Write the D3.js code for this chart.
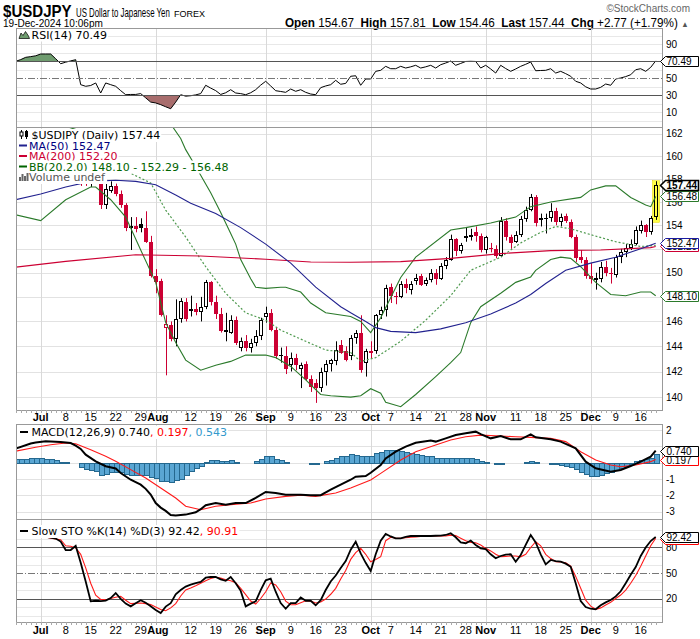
<!DOCTYPE html>
<html lang="en">
<head>
<meta charset="UTF-8">
<title>$USDJPY US Dollar to Japanese Yen FOREX</title>
<script src="https://d3js.org/d3.v7.min.js"></script>
<style>
  body { margin: 0; background: #fff; }
  svg { display: block; }
  text { font-family: "Liberation Sans", Arial, sans-serif; }
  .leg { font-family: "DejaVu Sans", Verdana, sans-serif; font-size: 11px; }
</style>
</head>
<body>
<div id="chart"></div>
<script>
// ---------- data ----------
// trading days run Mon-Fri from 2024-06-24 to 2024-12-19
const monthTicks = [["07-01", "Jul"], ["08-01", "Aug"], ["09-02", "Sep"], ["10-01", "Oct"], ["11-01", "Nov"], ["12-02", "Dec"]];
const dayTicks = [["07-08", "8"], ["07-15", "15"], ["07-22", "22"], ["07-29", "29"], ["08-12", "12"], ["08-19", "19"],
  ["08-26", "26"], ["09-09", "9"], ["09-16", "16"], ["09-23", "23"], ["10-07", "7"], ["10-14", "14"], ["10-21", "21"],
  ["10-28", "28"], ["11-11", "11"], ["11-18", "18"], ["11-25", "25"], ["12-09", "9"], ["12-16", "16"]];

// date, open, high, low, close
const candles = [
  ["06-24", 159.8, 159.9, 159.2, 159.6], ["06-25", 159.6, 159.8, 159.3, 159.7], ["06-26", 159.7, 160.9, 159.6, 160.8],
  ["06-27", 160.8, 160.9, 160.3, 160.8], ["06-28", 160.8, 161.3, 160.6, 160.9],
  ["07-01", 160.9, 161.7, 160.8, 161.5], ["07-02", 161.5, 161.7, 161.2, 161.5], ["07-03", 161.5, 161.95, 161.3, 161.7],
  ["07-04", 161.7, 161.8, 161.1, 161.2], ["07-05", 161.2, 161.3, 160.4, 160.8],
  ["07-08", 160.8, 161.0, 160.3, 160.8], ["07-09", 160.8, 161.4, 160.6, 161.3], ["07-10", 161.3, 161.8, 161.2, 161.7],
  ["07-11", 161.7, 161.8, 157.4, 158.8], ["07-12", 158.8, 159.4, 157.4, 157.9],
  ["07-15", 157.9, 158.6, 157.3, 158.0], ["07-16", 158.1, 158.8, 157.6, 158.4], ["07-17", 158.4, 158.8, 155.4, 155.7],
  ["07-18", 155.7, 157.6, 155.4, 157.1], ["07-19", 157.0, 157.8, 156.8, 157.4],
  ["07-22", 157.4, 157.6, 156.5, 156.7], ["07-23", 156.7, 157.0, 155.5, 155.7], ["07-24", 155.7, 155.9, 153.5, 153.8],
  ["07-25", 153.8, 154.7, 151.9, 153.9], ["07-26", 153.9, 154.7, 153.4, 153.7],
  ["07-29", 154.1, 154.6, 153.4, 153.8], ["07-30", 153.8, 155.2, 152.5, 152.6], ["07-31", 152.6, 153.1, 149.6, 149.7],
  ["08-01", 149.7, 150.3, 148.3, 149.2], ["08-02", 149.3, 149.5, 146.4, 146.5],
  ["08-05", 145.5, 146.5, 141.7, 145.8], ["08-06", 145.7, 146.0, 144.4, 144.6], ["08-07", 144.6, 147.8, 144.0, 146.2],
  ["08-08", 146.2, 147.9, 145.9, 147.7], ["08-09", 147.6, 147.9, 146.0, 146.2],
  ["08-12", 146.9, 148.1, 146.4, 147.0], ["08-13", 147.0, 147.5, 146.5, 146.8], ["08-14", 146.8, 148.0, 146.0, 147.2],
  ["08-15", 147.2, 149.4, 147.0, 149.2], ["08-16", 149.2, 149.3, 147.3, 147.6],
  ["08-19", 147.6, 148.1, 146.2, 146.6], ["08-20", 146.6, 147.1, 145.1, 145.2], ["08-21", 145.2, 146.7, 144.4, 145.3],
  ["08-22", 145.1, 146.5, 145.0, 146.1], ["08-23", 146.1, 146.4, 144.1, 144.3],
  ["08-26", 143.9, 144.7, 143.6, 144.4], ["08-27", 144.4, 144.9, 143.6, 143.9], ["08-28", 143.9, 144.6, 143.5, 144.3],
  ["08-29", 144.3, 145.3, 144.0, 144.8], ["08-30", 144.8, 146.3, 144.5, 146.1],
  ["09-02", 146.4, 147.2, 145.9, 146.7], ["09-03", 146.7, 147.0, 145.2, 145.3], ["09-04", 145.3, 145.5, 143.0, 143.2],
  ["09-05", 143.3, 143.9, 142.7, 143.25], ["09-06", 143.2, 144.0, 141.8, 142.2],
  ["09-09", 142.5, 143.5, 142.0, 143.1], ["09-10", 143.1, 143.4, 142.1, 142.5], ["09-11", 142.2, 142.7, 140.7, 142.5],
  ["09-12", 142.6, 142.8, 141.3, 141.4], ["09-13", 141.4, 141.7, 140.4, 140.8],
  ["09-16", 141.1, 141.4, 139.55, 140.7], ["09-17", 140.7, 142.3, 140.4, 141.95], ["09-18", 141.95, 142.9, 140.9, 142.6],
  ["09-19", 142.6, 143.0, 142.0, 142.9], ["09-20", 142.8, 144.4, 142.5, 143.7],
  ["09-23", 144.1, 144.5, 143.4, 143.5], ["09-24", 143.6, 144.0, 142.8, 142.9], ["09-25", 143.2, 144.9, 142.9, 144.7],
  ["09-26", 144.7, 145.3, 144.2, 145.1], ["09-27", 145.1, 146.5, 141.9, 142.1],
  ["09-30", 142.7, 143.8, 141.6, 143.6], ["10-01", 143.6, 144.4, 143.0, 143.5], ["10-02", 143.6, 146.6, 143.4, 146.5],
  ["10-03", 146.5, 147.2, 146.2, 146.9], ["10-04", 146.9, 149.0, 146.4, 148.7],
  ["10-07", 148.8, 149.1, 147.5, 148.1], ["10-08", 148.1, 148.4, 147.4, 148.0], ["10-09", 148.0, 149.3, 147.9, 149.1],
  ["10-10", 149.1, 149.5, 148.3, 148.7], ["10-11", 148.6, 149.3, 148.2, 149.1],
  ["10-14", 149.3, 149.9, 149.0, 149.6], ["10-15", 149.7, 149.9, 148.9, 149.0], ["10-16", 149.1, 149.6, 148.9, 149.4],
  ["10-17", 149.4, 150.3, 149.2, 150.0], ["10-18", 150.0, 150.3, 149.0, 149.5],
  ["10-21", 149.5, 150.8, 149.4, 150.6], ["10-22", 150.6, 151.3, 150.3, 151.1], ["10-23", 151.1, 153.2, 151.0, 152.8],
  ["10-24", 152.8, 152.9, 151.4, 151.8], ["10-25", 151.8, 152.5, 151.6, 152.3],
  ["10-28", 153.0, 153.8, 152.6, 153.1], ["10-29", 153.1, 153.7, 152.7, 153.2], ["10-30", 153.4, 153.9, 152.6, 153.1],
  ["10-31", 153.1, 153.3, 151.7, 151.9], ["11-01", 151.9, 153.1, 151.6, 153.0],
  ["11-04", 152.1, 152.5, 151.7, 152.0], ["11-05", 152.0, 152.3, 151.2, 151.4], ["11-06", 151.4, 154.7, 151.3, 154.4],
  ["11-07", 154.4, 154.6, 152.7, 153.0], ["11-08", 153.0, 153.2, 152.0, 152.5],
  ["11-11", 152.6, 153.5, 152.5, 153.2], ["11-12", 153.2, 154.8, 153.0, 154.5], ["11-13", 154.5, 155.6, 154.3, 155.3],
  ["11-14", 155.3, 156.7, 155.2, 156.4], ["11-15", 156.4, 156.6, 153.9, 154.2],
  ["11-18", 154.5, 155.0, 153.9, 154.6], ["11-19", 154.6, 155.0, 153.3, 154.6], ["11-20", 154.6, 155.9, 154.3, 155.2],
  ["11-21", 155.2, 155.5, 154.0, 154.3], ["11-22", 154.3, 155.0, 153.9, 154.7],
  ["11-25", 154.8, 155.0, 154.2, 154.4], ["11-26", 154.3, 154.5, 152.9, 153.0], ["11-27", 153.0, 153.2, 150.9, 151.2],
  ["11-28", 151.3, 151.9, 150.8, 151.1], ["11-29", 151.1, 151.3, 149.5, 149.7],
  ["12-02", 149.7, 150.8, 149.1, 149.5], ["12-03", 149.5, 150.0, 148.6, 149.6], ["12-04", 149.5, 150.9, 149.2, 150.5],
  ["12-05", 150.5, 151.0, 149.7, 150.0], ["12-06", 150.0, 150.4, 149.1, 149.9],
  ["12-09", 149.8, 151.5, 149.6, 151.3], ["12-10", 151.3, 152.0, 150.8, 151.7], ["12-11", 151.7, 152.4, 151.3, 152.1],
  ["12-12", 152.1, 152.8, 151.9, 152.4], ["12-13", 152.4, 153.9, 152.3, 153.6],
  ["12-16", 153.5, 154.4, 153.3, 154.0], ["12-17", 154.0, 154.1, 153.0, 153.4], ["12-18", 153.4, 154.8, 153.2, 154.6],
  ["12-19", 154.67, 157.81, 154.46, 157.44]
];

const ma50 = [["06-24", 156.2], ["07-01", 156.7], ["07-08", 157.3], ["07-15", 157.8], ["07-22", 157.9], ["07-26", 157.8],
  ["08-01", 157.5], ["08-07", 156.6], ["08-12", 155.9], ["08-19", 155.0], ["08-26", 153.8], ["09-02", 152.4],
  ["09-09", 150.8], ["09-16", 148.8], ["09-23", 147.2], ["09-25", 146.7], ["09-30", 146.0], ["10-02", 145.5],
  ["10-07", 145.2], ["10-14", 145.1], ["10-21", 145.4], ["10-28", 145.9], ["11-04", 146.6], ["11-11", 147.5],
  ["11-14", 148.2], ["11-19", 149.1], ["11-25", 150.2], ["12-02", 150.8], ["12-09", 151.3], ["12-16", 152.0], ["12-19", 152.47]];

const ma200 = [["06-24", 150.46], ["07-08", 150.95], ["07-26", 151.5], ["08-14", 151.4], ["09-02", 151.13], ["09-13", 150.9],
  ["09-25", 150.88], ["10-09", 150.93], ["10-23", 151.2], ["11-06", 151.6], ["11-20", 151.85], ["12-04", 151.9],
  ["12-18", 152.1], ["12-19", 152.2]];

const bbUpper = [["06-24", 159.8], ["07-01", 161.3], ["07-08", 162.3], ["07-15", 163.0], ["07-22", 163.4], ["07-29", 163.8],
  ["08-02", 163.6], ["08-06", 162.9], ["08-08", 161.6], ["08-09", 160.6], ["08-13", 159.1], ["08-16", 156.8],
  ["08-20", 155.1], ["08-22", 153.3], ["08-23", 152.4], ["08-26", 151.1], ["08-28", 149.5], ["08-29", 148.8],
  ["09-02", 148.7], ["09-05", 148.8], ["09-06", 148.8], ["09-11", 148.4], ["09-13", 147.5], ["09-18", 146.7],
  ["09-25", 146.4], ["09-27", 146.0], ["10-01", 145.1], ["10-03", 146.3], ["10-09", 149.6], ["10-14", 151.3],
  ["10-23", 153.6], ["10-28", 153.8], ["11-04", 154.2], ["11-11", 154.7], ["11-14", 155.6], ["11-20", 156.0],
  ["11-28", 156.4], ["12-02", 157.05], ["12-05", 157.4], ["12-09", 157.4], ["12-12", 156.4], ["12-17", 155.75],
  ["12-18", 155.6], ["12-19", 156.48]];

const bbMiddle = [["06-24", 158.2], ["06-27", 158.5], ["07-03", 159.06], ["07-09", 159.5], ["07-15", 159.86], ["07-17", 159.95],
  ["07-22", 159.7], ["07-25", 158.5], ["07-31", 157.66], ["08-05", 155.3], ["08-09", 153.0], ["08-15", 150.5],
  ["08-21", 148.3], ["08-27", 146.7], ["09-02", 146.1], ["09-05", 145.3], ["09-12", 144.4], ["09-18", 143.7],
  ["09-25", 143.5], ["09-27", 142.8], ["10-02", 143.1], ["10-09", 144.4], ["10-16", 146.1], ["10-23", 148.1],
  ["10-29", 150.2], ["11-06", 151.3], ["11-12", 152.5], ["11-18", 153.4], ["11-21", 153.9], ["11-26", 153.7],
  ["12-02", 153.2], ["12-09", 152.6], ["12-16", 152.2], ["12-19", 152.29]];

const bbLower = [["06-24", 154.9], ["07-01", 154.4], ["07-08", 156.2], ["07-15", 157.3], ["07-16", 157.3], ["07-19", 156.2],
  ["07-24", 154.7], ["07-29", 151.9], ["08-01", 149.2], ["08-05", 145.9], ["08-07", 144.3], ["08-09", 142.9],
  ["08-14", 142.1], ["08-19", 142.5], ["08-22", 142.8], ["08-27", 143.3], ["09-02", 143.3], ["09-04", 143.1],
  ["09-09", 142.4], ["09-12", 141.35], ["09-17", 140.2], ["09-19", 140.1], ["09-25", 140.0], ["09-27", 140.1],
  ["10-01", 140.65], ["10-03", 140.3], ["10-04", 139.6], ["10-09", 139.25], ["10-14", 140.2], ["10-18", 141.6],
  ["10-23", 142.7], ["10-25", 143.5], ["10-29", 145.9], ["10-31", 147.2], ["11-06", 148.3], ["11-11", 149.2],
  ["11-14", 149.65], ["11-15", 150.2], ["11-20", 151.1], ["11-22", 151.3], ["11-26", 151.2], ["11-28", 150.5],
  ["12-03", 149.2], ["12-06", 148.2], ["12-11", 148.1], ["12-16", 148.4], ["12-18", 148.4], ["12-19", 148.1]];

// one value per trading day
const rsi = [
  70, 72, 74.7, 75.5, 76.5, 78.6, 78.6, 78.6, 73, 67.2, 69, 70.5, 71.9, 42.5, 40.6,
  41.5, 44.5, 32.7, 44.5, 42.5, 40.6, 35.5, 30.7, 31, 31, 32, 27, 22, 21, 19,
  16.5, 14.2, 22, 30.7, 29, 29.5, 30.5, 32, 41.8, 38.5, 35.5, 31, 33, 36.6, 32.7,
  32, 30.7, 33, 36.6, 42, 46.5, 41, 35.4, 34.5, 33.5, 37.4, 34.7, 36.6, 33.5, 31.5,
  30.7, 39, 41, 42.5, 47.6, 43, 44, 52.4, 53, 41.8, 49.2, 49.2, 58.2, 59.4, 64.1,
  61.3, 61.3, 64.1, 62.1, 63.5, 65.3, 62.1, 63.5, 65.3, 62.1, 66, 68, 70.3, 65.3, 67.5,
  69.8, 70, 69.8, 62.1, 65.3, 61, 56.2, 65.3, 61.5, 58.2, 61, 64.1, 66.5, 69.2, 58.9,
  59.2, 59.4, 61.3, 56.2, 58.2, 55.5, 52.4, 46.5, 44.5, 40, 37.4, 37.4, 39.4, 43.3, 41.8,
  49.2, 50.4, 52, 54.2, 60.1, 61.3, 58.2, 62.9, 70.49];

const macdLine = [["06-24", 0.87], ["06-27", 1.18], ["06-28", 1.24], ["07-02", 1.32], ["07-05", 1.28], ["07-09", 1.21],
  ["07-10", 1.05], ["07-11", 0.85], ["07-12", 0.5], ["07-16", 0.09], ["07-18", -0.21], ["07-22", -0.35], ["07-23", -0.63],
  ["07-25", -1.04], ["07-29", -1.34], ["07-30", -1.6], ["07-31", -1.95], ["08-01", -2.47], ["08-02", -2.75], ["08-05", -2.95],
  ["08-06", -3.2], ["08-07", -3.24], ["08-09", -3.18], ["08-13", -3.04], ["08-14", -2.85], ["08-15", -2.6], ["08-19", -2.47],
  ["08-21", -2.57], ["08-23", -2.47], ["08-27", -2.47], ["08-29", -2.16], ["09-02", -1.79], ["09-04", -1.85], ["09-06", -1.96],
  ["09-11", -1.96], ["09-13", -1.99], ["09-17", -1.99], ["09-19", -1.65], ["09-23", -1.34], ["09-25", -1.04], ["09-26", -0.85],
  ["09-30", -0.81], ["10-01", -0.61], ["10-03", -0.14], ["10-04", 0.27], ["10-08", 0.68], ["10-10", 0.99], ["10-14", 1.23],
  ["10-17", 1.36], ["10-18", 1.3], ["10-22", 1.5], ["10-24", 1.7], ["10-28", 1.81], ["10-30", 1.91], ["10-31", 1.76],
  ["11-04", 1.5], ["11-06", 1.64], ["11-08", 1.44], ["11-12", 1.44], ["11-14", 1.74], ["11-15", 1.56], ["11-20", 1.44],
  ["11-22", 1.3], ["11-27", 0.89], ["11-29", 0.07], ["12-03", -0.34], ["12-06", -0.55], ["12-10", -0.44], ["12-12", -0.2],
  ["12-16", 0.07], ["12-18", 0.38], ["12-19", 0.74]];

const macdSignal = [["06-24", 0.71], ["06-28", 0.95], ["07-03", 1.11], ["07-08", 1.21], ["07-10", 1.17], ["07-15", 0.8],
  ["07-18", 0.4], ["07-22", 0.09], ["07-25", -0.42], ["07-30", -0.93], ["08-02", -1.55], ["08-07", -2.16], ["08-09", -2.67],
  ["08-14", -2.88], ["08-19", -2.67], ["08-22", -2.57], ["08-28", -2.47], ["09-02", -2.22], ["09-06", -2.06], ["09-11", -1.99],
  ["09-16", -2.06], ["09-20", -1.85], ["09-25", -1.55], ["10-01", -1.06], ["10-03", -0.65], ["10-09", 0.17], ["10-14", 0.68],
  ["10-18", 1.09], ["10-23", 1.4], ["10-28", 1.6], ["10-31", 1.7], ["11-06", 1.64], ["11-11", 1.6], ["11-14", 1.56],
  ["11-20", 1.5], ["11-25", 1.3], ["11-28", 0.68], ["12-03", 0.17], ["12-06", -0.14], ["12-10", -0.24], ["12-13", -0.14],
  ["12-18", 0.07], ["12-19", 0.197]];

const macdHist = [
  0.23, 0.23, 0.25, 0.29, 0.29, 0.29, 0.23, 0.21, 0.15, 0.03, 0.03, 0, -0.04, -0.28, -0.36,
  -0.42, -0.52, -0.73, -0.69, -0.58, -0.58, -0.58, -0.69, -0.77, -0.77, -0.73, -0.77, -0.89, -0.93, -1.09,
  -1.14, -1.18, -1.03, -0.97, -0.73, -0.52, -0.32, -0.18, 0.07, 0.15, 0.19, 0.09, 0.13, 0.15, 0.03,
  0, 0, 0, 0.13, 0.21, 0.4, 0.4, 0.25, 0.15, 0.07, 0, 0, 0, -0.04, -0.08,
  -0.08, 0, 0.09, 0.19, 0.29, 0.4, 0.4, 0.52, 0.48, 0.42, 0.42, 0.42, 0.58, 0.69, 0.79,
  0.79, 0.79, 0.75, 0.69, 0.62, 0.54, 0.48, 0.42, 0.42, 0.27, 0.27, 0.27, 0.27, 0.27, 0.27,
  0.27, 0.27, 0.21, 0.13, 0.07, 0, -0.1, -0.08, -0.04, -0.04, -0.04, 0, 0.03, 0.11, 0.03,
  -0.04, -0.04, -0.08, -0.1, -0.14, -0.18, -0.28, -0.4, -0.54, -0.69, -0.81, -0.81, -0.75, -0.65, -0.54,
  -0.44, -0.3, -0.18, -0.08, 0.11, 0.17, 0.21, 0.27, 0.543];

const stoK = [
  95, 95, 94.5, 94, 93.5, 93, 92.5, 91.5, 90.5, 87, 77, 77, 82, 62, 40,
  16.7, 17.4, 17, 17.5, 20.6, 26.5, 19.5, 14, 10.8, 14.5, 17.9, 15, 11, 6.5, 2.9,
  10.5, 14.5, 25, 30, 34, 36.3, 38, 39.6, 44.5, 45.3, 45.3, 42.5, 40.9, 45.3, 38,
  29, 10.8, 14, 16.7, 30, 41.4, 43.3, 28, 14.7, 8, 14.7, 14.7, 21.4, 17.4, 17.4,
  12, 18, 30, 40, 47, 56, 64, 77.4, 86.8, 73, 62, 52.4, 72, 88, 95.9,
  93, 90.8, 90.8, 92.5, 93.5, 93.5, 93.5, 93.5, 93.5, 93.8, 94, 94.7, 96.7, 92, 86,
  85, 88, 83, 79, 78, 72, 67.3, 70, 71.5, 72, 63.3, 71.2, 83, 94.7, 86,
  72, 60.2, 65.3, 64, 63.3, 61, 57.4, 38, 17, 10, 8, 7.3, 12, 15.5, 18.2,
  22.5, 28.5, 37.9, 48, 57, 70, 80, 87.6, 92.42];

const stoD = [
  95, 94.8, 94.5, 94.5, 94, 93.2, 92.5, 91, 90, 89.2, 82, 81.4, 79.4, 72, 56,
  38, 24, 19, 18.6, 20, 21.5, 22.6, 18, 14, 14.5, 14.7, 14, 13, 10, 7,
  5.6, 9, 14, 23, 30, 32.4, 35, 38, 41, 43.5, 45, 44, 42.1, 41, 38.5,
  32, 24.5, 17, 13.5, 20, 28, 38.2, 36, 28, 17, 12.7, 12.7, 15, 17.4, 17,
  14.7, 16, 19.4, 25, 32, 43, 53, 66, 74, 79, 72, 63.3, 66, 69.2, 88,
  92, 90.8, 90.8, 91.5, 92, 92.5, 93, 93.5, 93.5, 93.5, 93.5, 93.5, 94.5, 94, 91,
  88, 86, 85.6, 83, 79, 76, 72, 69.2, 69.5, 70, 70, 69, 72, 80, 86.8,
  82, 72, 67, 63.3, 63, 62, 58, 46, 32, 18, 11, 7.3, 9, 12.5, 15.5,
  20, 24.1, 30, 38, 47, 58, 70, 82, 90.91];

// axis labels (the ones hidden under value tags in the original are left out)
const priceTicks = [140, 142, 144, 146, 150, 154, 156, 158, 160, 162];
const priceGrid = d3.range(140, 163, 2);
const rsiTicks = [90, 50, 30, 10];
const macdTicks = [2, -1, -2, -3];
const macdGrid = [2, 1, 0, -1, -2, -3];
const stoTicks = [80, 50, 20];

// ---------- layout ----------
const W = 700, H = 639, L = 16, R = 663;
const RED = "#cc0033", NAVY = "#22228f", GREEN = "#2b7a2b";
const panels = {
  rsi: { top: 28, bot: 127 },
  main: { top: 127, bot: 410 },
  macd: { top: 424, bot: 519 },
  sto: { top: 519, bot: 622 }
};

const days = [];
for (let t = Date.UTC(2024, 5, 24); t <= Date.UTC(2024, 11, 19); t += 864e5) {
  const d = new Date(t), wd = d.getUTCDay();
  if (wd > 0 && wd < 6) days.push(d.toISOString().slice(5, 10));
}
const dayIdx = new Map(days.map((d, i) => [d, i]));

const x = d3.scaleLinear().domain([0, days.length - 1]).range([15.7, 655.7]);
const px = i => Math.round(x(i));
const xd = d => x(dayIdx.get(d));

const yRsi = d3.scaleLinear().domain([-7.3, 109.2]).range([panels.rsi.bot, panels.rsi.top]);
const yMain = d3.scaleLog().domain([139.0, 162.63]).range([panels.main.bot, panels.main.top]);
const yMacd = d3.scaleLinear().domain([-3.45, 2.38]).range([panels.macd.bot, panels.macd.top]);
const ySto = d3.scaleLinear().domain([-7.6, 113.5]).range([panels.sto.bot, panels.sto.top]);

const svg = d3.select("#chart").append("svg").attr("width", W).attr("height", H);
const defs = svg.append("defs");
Object.entries(panels).forEach(([k, p]) => {
  defs.append("clipPath").attr("id", "clip-" + k).append("rect")
    .attr("x", L).attr("y", p.top).attr("width", R - L).attr("height", p.bot - p.top);
});
defs.append("clipPath").attr("id", "rsi-up").append("rect")
  .attr("x", L).attr("y", panels.rsi.top).attr("width", R - L).attr("height", yRsi(70) - panels.rsi.top);
defs.append("clipPath").attr("id", "rsi-dn").append("rect")
  .attr("x", L).attr("y", yRsi(30)).attr("width", R - L).attr("height", panels.rsi.bot - yRsi(30));

function hline(g, y, color, dash) {
  const yy = Math.round(y) + 0.5;
  g.append("line").attr("x1", L).attr("x2", R).attr("y1", yy).attr("y2", yy)
    .attr("stroke", color).attr("stroke-dasharray", dash || null);
}
function vgrid(g, p) {
  monthTicks.forEach(m => {
    const xx = px(dayIdx.get(m[0])) + 0.5;
    g.append("line").attr("x1", xx).attr("x2", xx).attr("y1", p.top).attr("y2", p.bot).attr("stroke", "#d9d9d9");
  });
}
function border(p) {
  svg.append("rect").attr("x", L + 0.5).attr("y", p.top + 0.5).attr("width", R - L - 1).attr("height", p.bot - p.top)
    .attr("fill", "none").attr("stroke", "#999");
}
function axisLabels(ticks, ys) {
  ticks.forEach(v => svg.append("text").attr("x", 666).attr("y", ys(v)).attr("dy", "0.35em")
    .attr("font-size", 10).text(v));
}
function tag(y, label, color, bold) {
  const h = 10, yy = Math.round(y) + 0.5;
  svg.append("path").attr("d", `M660.5,${yy}L665.5,${yy - h / 2}H698.5V${yy + h / 2}H665.5Z`)
    .attr("fill", "#fff").attr("stroke", color).attr("stroke-width", bold ? 1.6 : 1);
  svg.append("text").attr("x", 666.5).attr("y", yy).attr("dy", "0.36em").attr("font-size", 10)
    .attr("font-weight", bold ? "bold" : null).text(label);
}
function legend(g, xt, yb, parts) {
  const t = g.append("text").attr("class", "leg").attr("x", xt).attr("y", yb);
  parts.forEach(p => t.append("tspan").attr("fill", p[1]).text(p[0]));
  const bb = t.node().getBBox();
  g.insert("rect", () => t.node()).attr("x", L + 1).attr("y", bb.y)
    .attr("width", bb.x + bb.width - L).attr("height", bb.height).attr("fill", "#fff");
}
function dash(g, xx, yb, color) {
  g.append("rect").attr("x", xx).attr("y", yb - 5).attr("width", 8).attr("height", 2).attr("fill", color);
}
// squeeze a text horizontally to a given width (imitates the narrow header font)
function fit(t, x0, y0, width) {
  t.attr("transform", `translate(${x0},${y0})`);
  const w = t.node().getBBox().width;
  t.attr("transform", `translate(${x0},${y0}) scale(${width / w},1)`);
  return t;
}
const lineD = ys => d3.line().x(d => xd(d[0])).y(d => ys(d[1]));
const lineI = ys => d3.line().x((d, i) => x(i)).y(d => ys(d));

// ---------- header ----------
fit(svg.append("text").attr("font-size", 16).attr("font-weight", "bold").text("$USDJPY"), 3, 17, 69);
fit(svg.append("text").attr("font-size", 12).text("US Dollar to Japanese Yen"), 76, 16.5, 94);
svg.append("text").attr("x", 174).attr("y", 16.5).attr("font-family", "'DejaVu Sans', Verdana, sans-serif")
  .attr("font-size", 9).text("FOREX");
fit(svg.append("text").attr("font-size", 11.5).text("19-Dec-2024 10:06pm"), 3, 26.5, 100);
svg.append("text").attr("x", 690).attr("y", 12).attr("text-anchor", "end").attr("font-size", 10)
  .attr("fill", "#666").text("©StockCharts.com");
const info = svg.append("text").attr("font-size", 12.5);
[["Open", " 154.67  "], ["High", " 157.81  "], ["Low", " 154.46  "], ["Last", " 157.44  "], ["Chg", " +2.77 (+1.79%) "]]
  .forEach(([k, v]) => {
    info.append("tspan").attr("font-weight", "bold").text(k);
    info.append("tspan").attr("xml:space", "preserve").text(v);
  });
info.append("tspan").attr("font-size", 8).attr("fill", "#555").text("▲");
fit(info, 285, 26.5, 404);

// ---------- RSI panel ----------
{
  const p = panels.rsi, g = svg.append("g");
  [100, 90, 80, 60, 40, 20, 10, 0].forEach(v => hline(g, yRsi(v), "#e8e8e8"));
  vgrid(g, p);
  const c = g.append("g").attr("clip-path", "url(#clip-rsi)");
  c.append("path").datum(rsi).attr("clip-path", "url(#rsi-up)")
    .attr("d", d3.area().x((d, i) => x(i)).y0(yRsi(70)).y1(d => yRsi(d))).attr("fill", "#6f9c6f");
  c.append("path").datum(rsi).attr("clip-path", "url(#rsi-dn)")
    .attr("d", d3.area().x((d, i) => x(i)).y0(yRsi(30)).y1(d => yRsi(d))).attr("fill", "#a86d6d");
  hline(g, yRsi(70), "#555");
  hline(g, yRsi(30), "#555");
  hline(g, yRsi(50), "#777", "7,2,1,2");
  c.append("path").datum(rsi).attr("d", lineI(yRsi)).attr("fill", "none").attr("stroke", "#000").attr("stroke-width", 1);
  legend(g, 31.5, 38.5, [["RSI(14) 70.49", "#000"]]);
  g.append("path").attr("d", "M19,38.5L21,33L23,35.5L25.5,31.5L28.5,36L29.5,38.5Z")
    .attr("fill", "#6f9c6f").attr("stroke", "#000").attr("stroke-width", 0.7);
  border(p);
  axisLabels(rsiTicks, yRsi);
  tag(yRsi(70.49), "70.49", "#000");
}

// ---------- price panel ----------
{
  const p = panels.main, g = svg.append("g");
  priceGrid.forEach(v => hline(g, yMain(v), "#e2e2e2"));
  vgrid(g, p);
  const c = g.append("g").attr("clip-path", "url(#clip-main)");

  // last bar highlight
  const last = candles[candles.length - 1], li = candles.length - 1;
  c.append("rect").attr("x", px(li) - 3.5).attr("y", yMain(last[2]) - 0.5).attr("width", 7)
    .attr("height", yMain(last[3]) - yMain(last[2]) + 3).attr("fill", "#ffff44").attr("stroke", "#e6d600").attr("stroke-width", 0.5);

  candles.forEach((cd, i) => {
    const [d, o, h, l, cl] = cd;
    const prev = i ? candles[i - 1][4] : cl;
    const col = cl < prev ? RED : "#000";
    const r = px(dayIdx.get(d));
    const yH = yMain(h), yL = yMain(l);
    const yT = Math.round(yMain(Math.max(o, cl))), yB = Math.round(yMain(Math.min(o, cl)));
    c.append("line").attr("x1", r + 0.5).attr("x2", r + 0.5).attr("y1", yH).attr("y2", yL).attr("stroke", col);
    if (cl > o) {
      c.append("rect").attr("x", r - 1.5).attr("y", yT + 0.5).attr("width", 3).attr("height", Math.max(1, yB - yT - 1))
        .attr("fill", i === li ? "#ffff44" : "#fff").attr("stroke", col);
    } else {
      c.append("rect").attr("x", r - 2).attr("y", yT).attr("width", 4).attr("height", Math.max(1, yB - yT))
        .attr("fill", col);
    }
  });

  c.append("path").datum(bbUpper).attr("d", lineD(yMain)).attr("fill", "none").attr("stroke", GREEN).attr("stroke-width", 1.1);
  c.append("path").datum(bbLower).attr("d", lineD(yMain)).attr("fill", "none").attr("stroke", GREEN).attr("stroke-width", 1.1);
  c.append("path").datum(bbMiddle).attr("d", lineD(yMain)).attr("fill", "none").attr("stroke", "#4f9a4f")
    .attr("stroke-width", 1.2).attr("stroke-dasharray", "2,2");
  c.append("path").datum(ma200).attr("d", lineD(yMain)).attr("fill", "none").attr("stroke", RED).attr("stroke-width", 1.1);
  c.append("path").datum(ma50).attr("d", lineD(yMain)).attr("fill", "none").attr("stroke", NAVY).attr("stroke-width", 1.1);

  legend(g, 31.5, 139, [["$USDJPY (Daily) 157.44", "#000"]]);
  legend(g, 29, 149.5, [["MA(50) 152.47", "#000080"]]);
  legend(g, 29, 160, [["MA(200) 152.20", RED]]);
  legend(g, 29, 170.5, [["BB(20,2.0) 148.10 - 152.29 - 156.48", "#006400"]]);
  legend(g, 29, 181, [["Volume undef", "#555"]]);
  // icons
  g.append("line").attr("x1", 21.5).attr("x2", 21.5).attr("y1", 130).attr("y2", 139).attr("stroke", "#000");
  g.append("rect").attr("x", 20).attr("y", 132).attr("width", 3).attr("height", 4).attr("fill", "#fff").attr("stroke", "#000");
  g.append("line").attr("x1", 26.5).attr("x2", 26.5).attr("y1", 130).attr("y2", 139).attr("stroke", "#000");
  g.append("rect").attr("x", 25).attr("y", 131).attr("width", 3).attr("height", 6).attr("fill", "#000");
  dash(g, 19, 149.5, NAVY);
  dash(g, 19, 160, RED);
  dash(g, 19, 170.5, "#006400");
  [[19, 4], [21.5, 7], [24, 5], [26.5, 8]].forEach(([bx, bh]) =>
    g.append("rect").attr("x", bx).attr("y", 181 - bh).attr("width", 2).attr("height", bh).attr("fill", "#666"));

  border(p);
  axisLabels(priceTicks, yMain);
  tag(yMain(152.20), "152.20", RED);
  tag(yMain(152.47), "152.47", "#1a1aa0");
  tag(yMain(148.10), "148.10", GREEN);
  tag(yMain(156.48), "156.48", GREEN);
  tag(yMain(157.44), "157.44", "#000", true);
}

// ---------- MACD panel ----------
{
  const p = panels.macd, g = svg.append("g");
  macdGrid.forEach(v => hline(g, yMacd(v), "#e2e2e2"));
  vgrid(g, p);
  const c = g.append("g").attr("clip-path", "url(#clip-macd)");
  const y0 = Math.round(yMacd(0)) + 0.5;
  macdHist.forEach((v, i) => {
    const yv = Math.round(yMacd(v)) + 0.5;
    c.append("rect").attr("x", px(i) - 1.5).attr("y", Math.min(y0, yv)).attr("width", 5)
      .attr("height", Math.abs(yv - y0)).attr("fill", "#5aa6d3").attr("stroke", "#24688f").attr("stroke-width", 1);
  });
  c.append("path").datum(macdSignal).attr("d", lineD(yMacd)).attr("fill", "none").attr("stroke", "#ff1a1a").attr("stroke-width", 1.1);
  c.append("path").datum(macdLine).attr("d", lineD(yMacd)).attr("fill", "none").attr("stroke", "#000").attr("stroke-width", 2);
  legend(g, 31.5, 436, [["MACD(12,26,9) 0.740", "#000"], [", 0.197", "#ff0000"], [", 0.543", "#3399cc"]]);
  dash(g, 20, 436, "#000");
  border(p);
  axisLabels(macdTicks, yMacd);
  tag(yMacd(0.197) + 0.5, "0.197", "#ff0000");
  tag(yMacd(0.740), "0.740", "#000");
}

// ---------- Slow STO panel ----------
{
  const p = panels.sto, g = svg.append("g");
  [100, 90, 70, 60, 40, 30, 10, 0].forEach(v => hline(g, ySto(v), "#e8e8e8"));
  vgrid(g, p);
  hline(g, ySto(80), "#555");
  hline(g, ySto(20), "#555");
  hline(g, ySto(50), "#777", "7,2,1,2");
  const c = g.append("g").attr("clip-path", "url(#clip-sto)");
  c.append("path").datum(stoD).attr("d", lineI(ySto)).attr("fill", "none").attr("stroke", "#ff1a1a").attr("stroke-width", 1.1);
  c.append("path").datum(stoK).attr("d", lineI(ySto)).attr("fill", "none").attr("stroke", "#000").attr("stroke-width", 1.8);
  legend(g, 31.5, 535, [["Slow STO %K(14) %D(3) 92.42", "#000"], [", 90.91", "#ff0000"]]);
  dash(g, 20, 535, "#000");
  border(p);
  axisLabels(stoTicks, ySto);
  tag(ySto(90.91) + 1, "90.91", "#ff0000");
  tag(ySto(92.42), "92.42", "#000");
}

// ---------- date axes ----------
function dateAxis(yTop, yBase) {
  days.forEach((d, i) => svg.append("line").attr("x1", px(i) + 0.5).attr("x2", px(i) + 0.5)
    .attr("y1", yTop).attr("y2", yTop + 3).attr("stroke", "#aaa"));
  dayTicks.forEach(([d, t]) => svg.append("text").attr("x", xd(d)).attr("y", yBase)
    .attr("text-anchor", "middle").attr("font-size", 11).text(t));
  monthTicks.forEach(([d, t]) => {
    const aug = t === "Aug";
    svg.append("text").attr("x", aug ? xd("07-29") + 6.5 : xd(d)).attr("y", yBase)
      .attr("text-anchor", aug ? "start" : "middle").attr("font-size", 11).attr("font-weight", "bold").text(t);
  });
}
dateAxis(410, 421);
dateAxis(622, 634);
</script>
</body>
</html>
